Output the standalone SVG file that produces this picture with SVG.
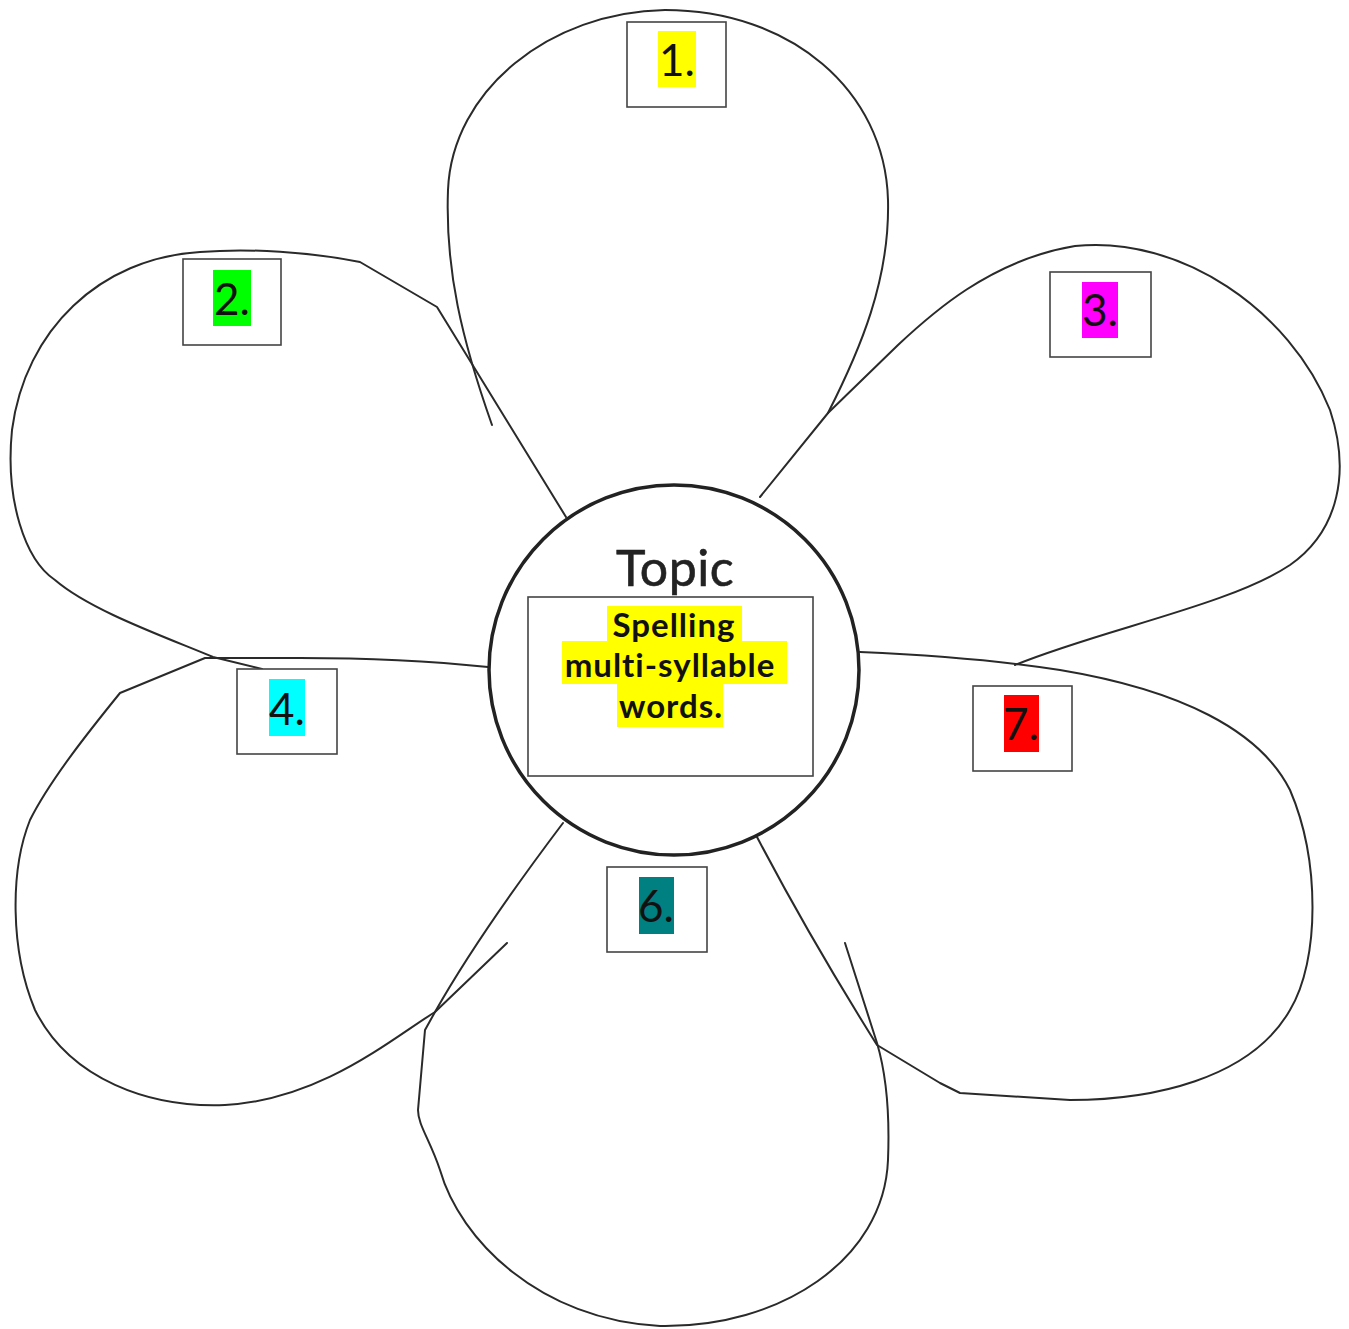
<svg xmlns="http://www.w3.org/2000/svg" width="1349" height="1329" viewBox="0 0 1349 1329">
<style>
.petal{fill:none;stroke:#2a2a2a;stroke-width:2;stroke-linejoin:round;stroke-linecap:round}
.box{fill:#fff;stroke:#444;stroke-width:1.6}
.num{font-family:Lato,"Open Sans","Liberation Sans",sans-serif;font-size:44px;fill:#111;text-anchor:middle}
.main{font-family:Lato,"Open Sans","Liberation Sans",sans-serif;font-weight:bold;font-size:33px;letter-spacing:1px;fill:#111;text-anchor:middle}
</style>
<rect width="1349" height="1329" fill="#fff"/>
<g id="petals">
<path class="petal" d="M 492 425 C 462 340, 445 270, 448 190 C 452 90, 550 12, 665 10 C 790 10, 885 90, 888 200 C 890 280, 860 350, 828 413 L 760 497"/>
<path class="petal" d="M 828 413 L 898 345 C 930 315, 990 260, 1075 246 C 1180 235, 1290 310, 1330 410 C 1350 470, 1340 530, 1290 565 C 1230 605, 1100 630, 1015 665"/>
<path class="petal" d="M 860 652 C 950 656, 1010 662, 1060 670 C 1180 690, 1260 730, 1290 790 C 1320 860, 1320 960, 1290 1010 C 1250 1080, 1150 1100, 1070 1100 L 960 1093 L 940 1083 L 877 1045 C 830 970, 790 900, 757 837"/>
<path class="petal" d="M 845 943 L 877 1043 C 885 1070, 890 1110, 888 1160 C 884 1260, 780 1328, 660 1326 C 540 1320, 460 1240, 440 1170 C 430 1140, 418 1125, 418 1110 L 425 1030 L 435 1012 C 470 950, 520 880, 563 823"/>
<path class="petal" d="M 488 667 C 440 662, 380 658, 300 658 L 205 658 L 120 693 C 90 730, 50 780, 30 820 C 10 870, 10 950, 35 1010 C 70 1080, 150 1108, 225 1105 C 320 1100, 390 1040, 435 1012 L 507 943"/>
<path class="petal" d="M 566 517 L 437 307 L 360 262 C 310 252, 250 248, 200 252 C 100 258, 25 330, 12 430 C 5 500, 25 560, 55 580 C 90 610, 160 635, 213 657 L 262 669"/>
</g>
<g id="center">
<circle cx="674" cy="670" r="185" fill="#fff" stroke="#222" stroke-width="3.5"/>
<text x="675" y="586" font-family="Lato,'Open Sans','Liberation Sans',sans-serif" font-size="50" letter-spacing="0.5" fill="#222" stroke="#222" stroke-width="0.6" text-anchor="middle">Topic</text>
<rect x="528" y="597" width="285" height="179" class="box"/>
<rect x="607" y="606" width="135" height="36" fill="#ffff00"/>
<rect x="562" y="641" width="225" height="43" fill="#ffff00"/>
<rect x="617" y="684" width="106" height="43" fill="#ffff00"/>
<text x="674" y="637" class="main">Spelling</text>
<text x="670" y="677" class="main">multi-syllable</text>
<text x="671" y="718" class="main">words.</text>
</g>
<g id="label1">
<rect x="627" y="22" width="99" height="85" class="box"/>
<rect x="658" y="31" width="38" height="56" fill="#ffff00"/>
<text x="677" y="76" class="num">1.</text>
</g>
<g id="label2">
<rect x="183" y="259" width="98" height="86" class="box"/>
<rect x="213" y="270" width="38" height="56" fill="#00ff00"/>
<text x="232" y="315" class="num">2.</text>
</g>
<g id="label3">
<rect x="1050" y="272" width="101" height="85" class="box"/>
<rect x="1082" y="282" width="36" height="56" fill="#ff00ff"/>
<text x="1100" y="326" class="num">3.</text>
</g>
<g id="label4">
<rect x="237" y="669" width="100" height="85" class="box"/>
<rect x="269" y="679" width="36" height="57" fill="#00ffff"/>
<text x="287" y="725" class="num">4.</text>
</g>
<g id="label6">
<rect x="607" y="867" width="100" height="85" class="box"/>
<rect x="639" y="877" width="35" height="57" fill="#008080"/>
<text x="656" y="922" class="num">6.</text>
</g>
<g id="label7">
<rect x="973" y="686" width="99" height="85" class="box"/>
<rect x="1004" y="695" width="35" height="57" fill="#ff0000"/>
<text x="1021" y="740" class="num">7.</text>
</g>
</svg>
